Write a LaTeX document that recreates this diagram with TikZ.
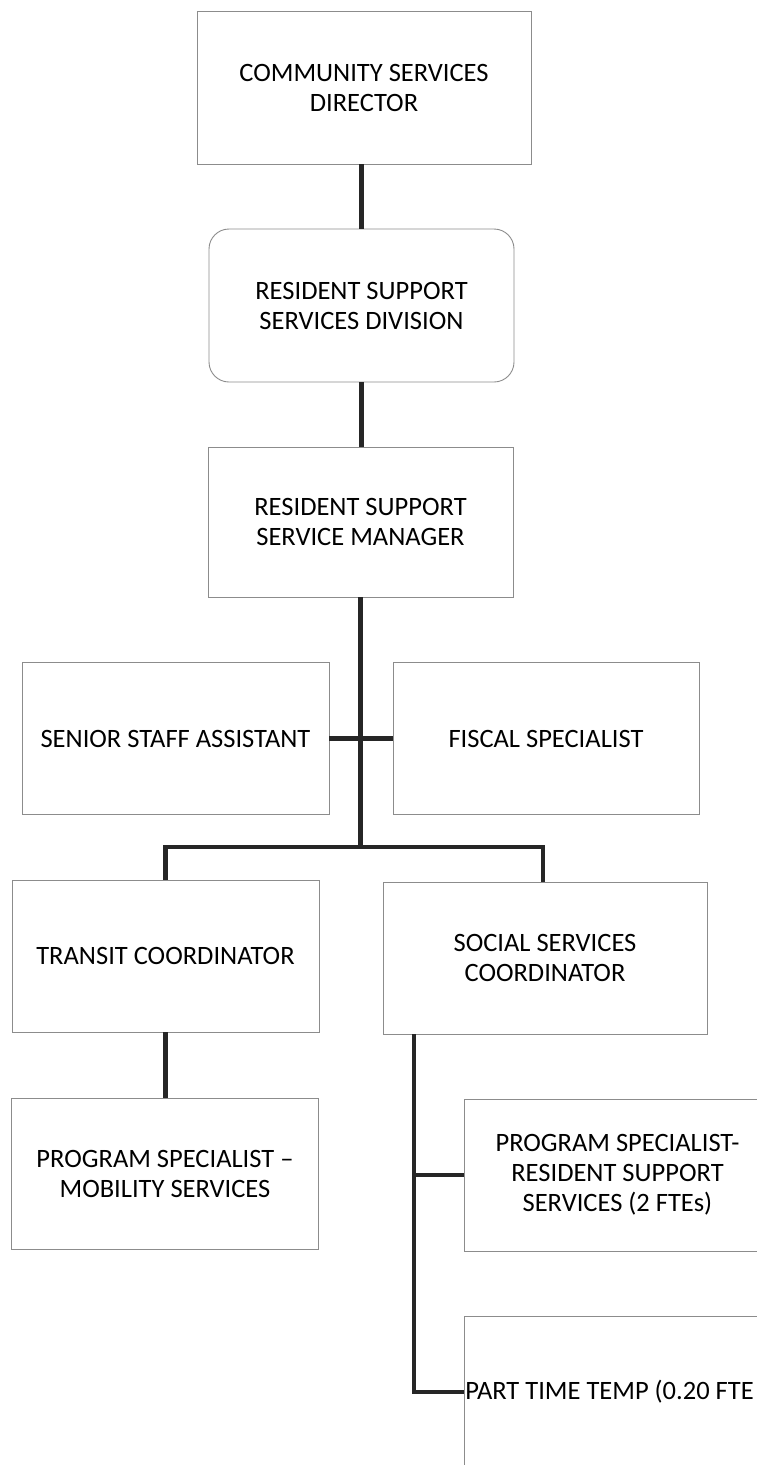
\documentclass[tikz,border=0pt]{standalone}
\usepackage{fontspec}
\setmainfont{Carlito}
\begin{document}
\begin{tikzpicture}[x=1pt,y=-1pt,
  box/.style={draw=black!45, line width=0.9pt, fill=white, inner sep=0pt, align=center,
    font=\fontsize{26.5}{30}\selectfont},
  lbl/.style={inner sep=0pt, font=\fontsize{26.5}{30}\selectfont},
  conn/.style={draw=black!85, line width=4.2pt}]
\useasboundingbox (0,0) rectangle (757,1465);
\clip (0,0) rectangle (757,1465);
\fill[white] (0,0) rectangle (757,1465);

\node[box, minimum width=334pt, minimum height=153pt] (dir) at (364,87.5) {COMMUNITY SERVICES\\DIRECTOR};
\node[box, rounded corners=20pt, minimum width=305pt, minimum height=153pt] (div) at (361.5,305.5) {RESIDENT SUPPORT\\SERVICES DIVISION};
\node[box, minimum width=305pt, minimum height=150pt] (mgr) at (360.5,522) {RESIDENT SUPPORT\\SERVICE MANAGER};
\node[box, minimum width=307pt, minimum height=152pt] (sen) at (175.5,738.5) {SENIOR STAFF ASSISTANT};
\node[box, minimum width=306pt, minimum height=152pt] (fis) at (546,738.5) {FISCAL SPECIALIST};
\node[box, minimum width=307pt, minimum height=152pt] (tra) at (165.5,956) {TRANSIT COORDINATOR};
\node[box, minimum width=324pt, minimum height=152pt] (soc) at (545,958) {SOCIAL SERVICES\\COORDINATOR};
\node[box, minimum width=307pt, minimum height=151pt] (mob) at (165,1173.5) {PROGRAM SPECIALIST --\\MOBILITY SERVICES};
\node[box, minimum width=307pt, minimum height=152pt] (psr) at (617.5,1175) {PROGRAM SPECIALIST-\\RESIDENT SUPPORT\\SERVICES (2 FTEs)};
\node[box, minimum width=307pt, minimum height=152pt] (ptt) at (617.5,1392) {};
\node[lbl, anchor=west] (pttl) at ([xshift=1.5pt]ptt.west) {PART TIME TEMP (0.20 FTE};

\coordinate (busL) at (165.5,847);
\coordinate (busR) at (543,847);
\coordinate (sv) at (414,1034);

\draw[conn] (div.north |- dir.south) -- (div.north);
\draw[conn] (div.south) -- (div.south |- mgr.north);
\draw[conn] (mgr.south) -- (mgr.south |- busL);
\draw[conn] (sen.east) -- (sen.east -| fis.west);
\draw[conn] (tra.north) |- (busR) -- (busR |- soc.north);
\draw[conn] (tra.south) -- (tra.south |- mob.north);
\draw[conn] (sv) |- (ptt.west);
\draw[conn] (sv |- psr.west) -- (psr.west);
\end{tikzpicture}
\end{document}
